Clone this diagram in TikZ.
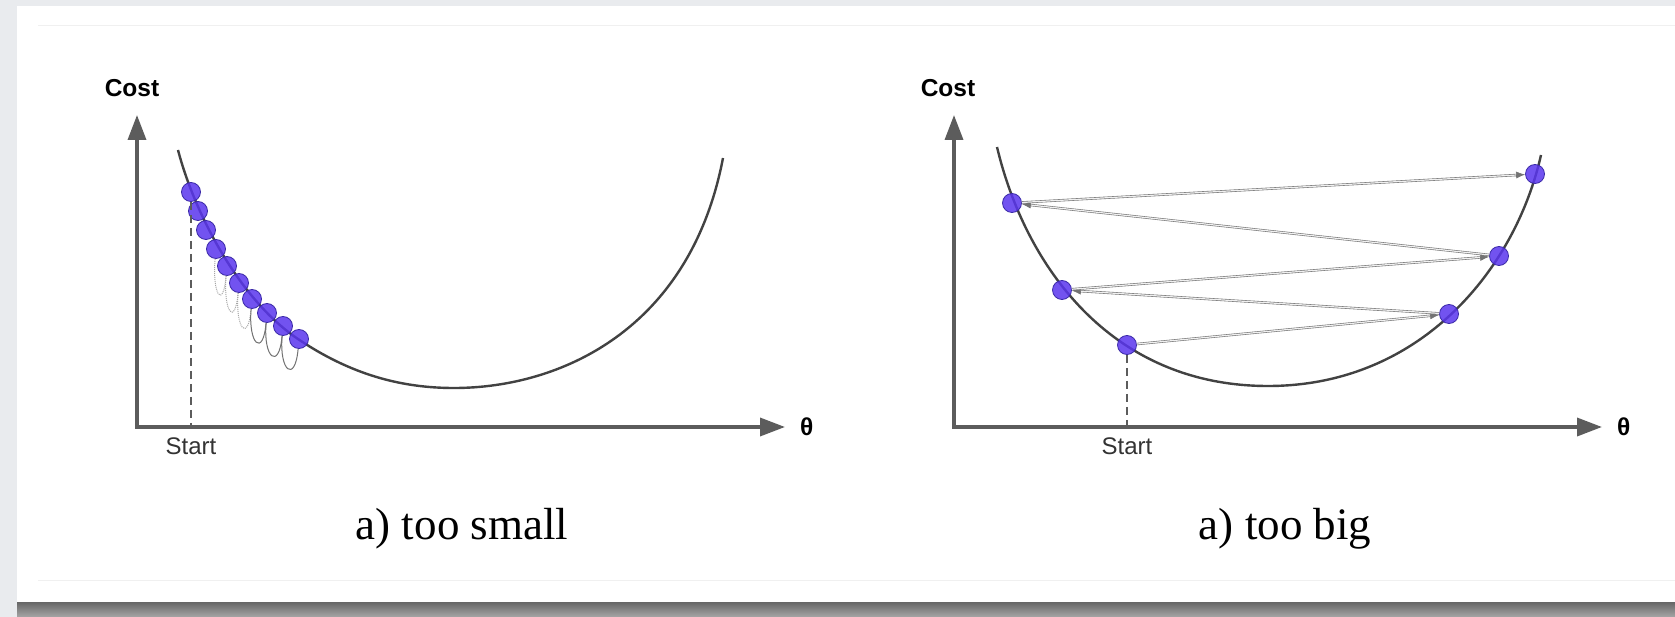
\documentclass[tikz,border=0pt]{standalone}
\usepackage{fontspec}
\setmainfont{Liberation Serif}
\setsansfont{Liberation Sans}
\usetikzlibrary{positioning, arrows.meta}

\definecolor{axisgray}{HTML}{5C5C5C}
\definecolor{curvegray}{HTML}{424242}
\definecolor{ballblue}{HTML}{5A36EE}
\definecolor{balledge}{HTML}{3B2AA8}
\definecolor{pagebg}{HTML}{E9EBEE}

\begin{document}
\begin{tikzpicture}[
    x=1pt, y=-1pt,
    axis/.style={draw=axisgray, line width=3.5pt, {Triangle[length=25pt, width=18pt]}-{Triangle[length=25pt, width=18pt]}},
    costcurve/.style={draw=curvegray, line width=2.4pt},
    ball/.style={circle, draw=balledge, line width=0.8pt, fill=ballblue, fill opacity=0.85, minimum size=19pt, inner sep=0pt},
    startline/.style={draw=axisgray, line width=1.5pt, dash pattern=on 8pt off 5pt},
    loopline/.style={draw=black!55, line width=1pt},
    jump/.style={draw=black!55, double=black!6, double distance=1.2pt, line width=0.6pt, -{Latex[length=9pt, width=7pt]}},
    axislabel/.style={font=\sffamily\bfseries\fontsize{24.5}{28}\selectfont, inner sep=0pt},
    ticklabel/.style={font=\sffamily\fontsize{24}{28}\selectfont, text=black!80, inner sep=0pt},
    caption/.style={font=\fontsize{45}{54}\selectfont, anchor=base, inner sep=0pt}
]
    \useasboundingbox (0,0) rectangle (1675,617);

    % page and card
    \fill[pagebg] (0,0) rectangle (1675,617);
    \fill[white] (17,6) rectangle (1675,602);
    \shade[top color=black!60, bottom color=black!35] (17,602) rectangle (1675,617);
    \draw[black!6, line width=0.8pt] (38,25) -- (1675,25);
    \draw[black!6, line width=0.8pt] (38,580) -- (1675,580);

    % left: too small
    \coordinate (lo) at (137,427);
    \coordinate (ly) at (137,115);
    \coordinate (lx) at (785,427);
    \draw[axis] (ly) -- (lo) -- (lx);
    \node[axislabel, above=18pt of ly, xshift=-5pt] (lcost) {Cost};
    \node[axislabel, right=15pt of lx] (ltheta) {θ};

    \draw[costcurve] (178,150) .. controls (195,215) and (240,300) .. (298,339)
        .. controls (350,374) and (400,388) .. (454,388)
        .. controls (560,388) and (690,330) .. (723,158);

    \foreach \p [count=\i] in {(191,192), (198,211), (206,230), (216,249), (227,266), (239,283), (252,299), (267,313), (283,326), (299,339)}
        \node[ball] (l\i) at \p {};

    \foreach \a/\b in {4/5, 5/6, 6/7}
        \draw[loopline, black!35, densely dotted] (l\a) .. controls +(-4,45) and +(-4,45) .. (l\b);
    \foreach \a/\b in {7/8, 8/9, 9/10}
        \draw[loopline] (l\a) .. controls +(-4,45) and +(-4,45) .. (l\b);

    \coordinate (lstart) at (l1 |- lo);
    \draw[startline] (l1) -- (lstart);
    \node[ticklabel, below=11pt of lstart] (lstartlabel) {Start};

    \node[caption] (lcap) at (462,539) {a) too small};

    % right: too big
    \coordinate (ro) at (954,427);
    \coordinate (ry) at (954,115);
    \coordinate (rx) at (1602,427);
    \draw[axis] (ry) -- (ro) -- (rx);
    \node[axislabel, above=18pt of ry, xshift=-6pt] (rcost) {Cost};
    \node[axislabel, right=15pt of rx] (rtheta) {θ};

    \draw[costcurve] (997,147) .. controls (1025,265) and (1110,386) .. (1268,386)
        .. controls (1420,386) and (1515,270) .. (1541,155);

    \foreach \p [count=\i] in {(1127,345), (1449,314), (1062,290), (1499,256), (1012,203), (1535,174)}
        \node[ball] (r\i) at \p {};

    \foreach \a [count=\b from 2] in {1,...,5}
        \draw[jump] (r\a) -- (r\b);

    \coordinate (rstart) at (r1 |- ro);
    \draw[startline] (r1) -- (rstart);
    \node[ticklabel, below=11pt of rstart] (rstartlabel) {Start};

    \node[caption] (rcap) at (1285,539) {a) too big};
\end{tikzpicture}
\end{document}
